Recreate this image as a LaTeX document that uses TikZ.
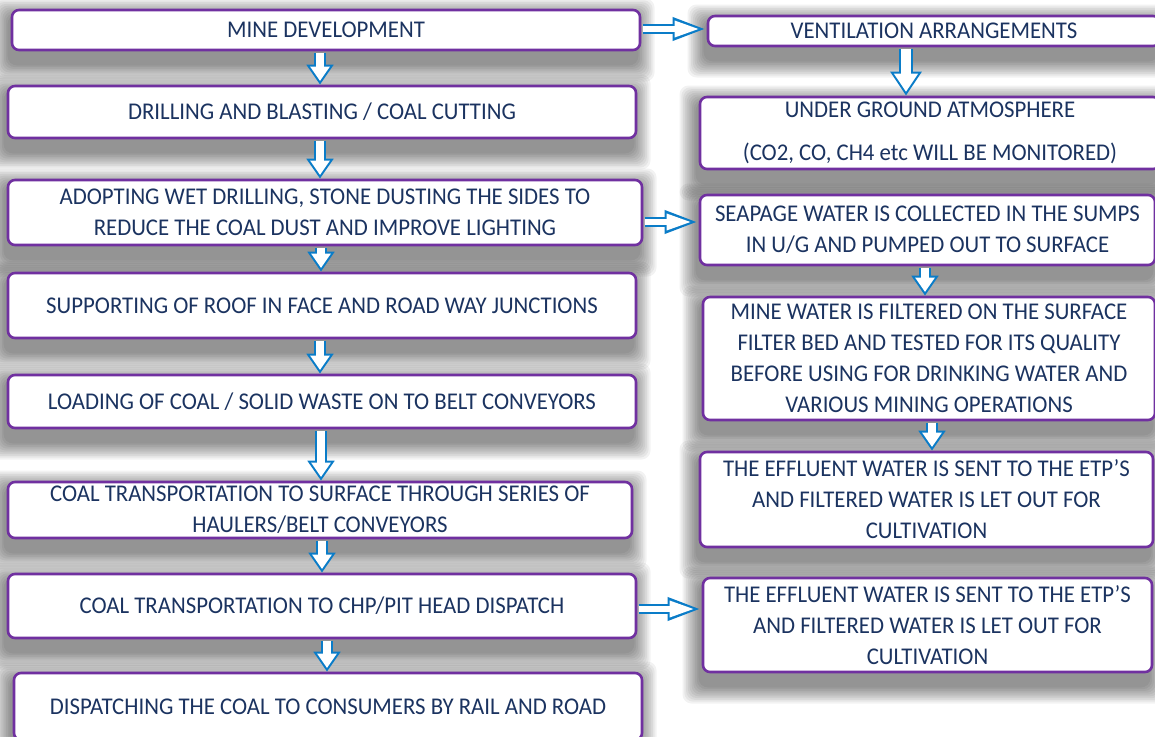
\documentclass[tikz,border=0pt]{standalone}
\usepackage{fontspec}
\setmainfont{Carlito}[FakeStretch=0.95]
\usetikzlibrary{arrows.meta,backgrounds}
\definecolor{boxpurple}{HTML}{7030A0}
\definecolor{textnavy}{HTML}{1B3360}
\definecolor{arrowblue}{HTML}{0A7CC8}
\tikzset{
  stepbox/.style={draw=boxpurple, line width=2.6pt, rounded corners=7pt, fill=white,
    inner sep=0pt, align=center, text=textnavy, font=\fontsize{24}{31}\selectfont},
  shadowlayer/.style={black, opacity=0.05, rounded corners=9pt},
  arrowouter/.style n args={3}{line width=#1, draw=arrowblue, shorten <=1.3pt,
    -{Triangle[width=#2,length=#3]}},
  arrowinner/.style n args={4}{line width=#1, draw=white, shorten <=1.3pt, shorten >=#4,
    -{Triangle[width=#2,length=#3]}},
}
\newcommand\vlarrow[2]{%
  \draw[arrowouter={12pt}{26pt}{20pt}] #1 -- #2;
  \draw[arrowinner={7.6pt}{18.6pt}{14.3pt}{3.7pt}] #1 -- #2;}
\newcommand\vbigarrow[2]{%
  \draw[arrowouter={14pt}{30pt}{24pt}] #1 -- #2;
  \draw[arrowinner={9.6pt}{22.8pt}{18.2pt}{3.8pt}] #1 -- #2;}
\newcommand\harrow[2]{%
  \draw[arrowouter={10pt}{21pt}{34pt}] #1 -- #2;
  \draw[arrowinner={5.8pt}{15pt}{25.4pt}{6.7pt}] #1 -- #2;}
\newcommand\softshadow[1]{%
  \foreach \k in {0,...,9}{%
    \fill[shadowlayer] ([xshift={(-1.8*\k-3)*1pt}, yshift={(-6+1.8*\k)*1pt}]#1.north west)
      rectangle ([xshift={(1.8*\k-3)*1pt}, yshift={(-14-1.8*\k)*1pt}]#1.south east);
  }}
\begin{document}
\begin{tikzpicture}[x=1pt,y=-1pt]
\useasboundingbox (0,0) rectangle (1155,736);
\clip (0,0) rectangle (1155,736);
% left column
\node[stepbox, minimum width=628pt, minimum height=40pt] (n1) at (326,30) {MINE DEVELOPMENT};
\node[stepbox, minimum width=628pt, minimum height=52pt] (n2) at (322,112) {DRILLING AND BLASTING / COAL CUTTING};
\node[stepbox, minimum width=634pt, minimum height=65pt] (n3) at (325,212.5) {ADOPTING WET DRILLING, STONE DUSTING THE SIDES TO\\REDUCE THE COAL DUST AND IMPROVE LIGHTING};
\node[stepbox, minimum width=628pt, minimum height=65pt] (n4) at (322,305.5) {SUPPORTING OF ROOF IN FACE AND ROAD WAY JUNCTIONS};
\node[stepbox, minimum width=628pt, minimum height=53pt] (n5) at (322,401.5) {LOADING OF COAL / SOLID WASTE ON TO BELT CONVEYORS};
\node[stepbox, minimum width=624pt, minimum height=56pt] (n6) at (320,510) {COAL TRANSPORTATION TO SURFACE THROUGH SERIES OF\\HAULERS/BELT CONVEYORS};
\node[stepbox, minimum width=628pt, minimum height=64pt] (n7) at (322,606) {COAL TRANSPORTATION TO CHP/PIT HEAD DISPATCH};
\node[stepbox, minimum width=628pt, minimum height=67pt] (n8) at (328,706.5) {DISPATCHING THE COAL TO CONSUMERS BY RAIL AND ROAD};
% right column
\node[stepbox, minimum width=452pt, minimum height=30pt] (a) at (934,31) {VENTILATION ARRANGEMENTS};
\node[stepbox, minimum width=460pt, minimum height=72pt] (b) at (930,133) {UNDER GROUND ATMOSPHERE\\[12pt](CO2, CO, CH4 etc WILL BE MONITORED)};
\node[stepbox, minimum width=455pt, minimum height=70pt] (c) at (927.5,230) {SEAPAGE WATER IS COLLECTED IN THE SUMPS\\IN U/G AND PUMPED OUT TO SURFACE};
\node[stepbox, minimum width=452pt, minimum height=123pt] (d) at (929,358.5) {MINE WATER IS FILTERED ON THE SURFACE\\FILTER BED AND TESTED FOR ITS QUALITY\\BEFORE USING FOR DRINKING WATER AND\\VARIOUS MINING OPERATIONS};
\node[stepbox, minimum width=453pt, minimum height=95pt] (e) at (926.5,499.5) {THE EFFLUENT WATER IS SENT TO THE ETP’S\\AND FILTERED WATER IS LET OUT FOR\\CULTIVATION};
\node[stepbox, minimum width=449pt, minimum height=94pt] (f) at (927.5,625) {THE EFFLUENT WATER IS SENT TO THE ETP’S\\AND FILTERED WATER IS LET OUT FOR\\CULTIVATION};
% soft shadows behind the boxes
\begin{pgfonlayer}{background}
  \fill[white] (0,0) rectangle (1155,736);
  \foreach \n in {n1,n2,n3,n4,n5,n6,n7,n8,a,b,c,d,e,f}{\softshadow{\n}}
\end{pgfonlayer}
% vertical arrows, left
\vlarrow{([xshift=-6pt]n1.south)}{([xshift=-2pt]n2.north)}
\vlarrow{([xshift=-2pt]n2.south)}{([xshift=-5pt]n3.north)}
\vlarrow{([xshift=-4pt]n3.south)}{([xshift=-1pt]n4.north)}
\vlarrow{([xshift=-2pt]n4.south)}{([xshift=-2pt]n5.north)}
\vlarrow{([xshift=-1pt]n5.south)}{([xshift=1pt]n6.north)}
\vlarrow{([xshift=2pt]n6.south)}{([xshift=0pt]n7.north)}
\vlarrow{([xshift=5pt]n7.south)}{([xshift=-1pt]n8.north)}
% vertical arrows, right
\vbigarrow{([xshift=-28pt]a.south)}{([xshift=-24pt]b.north)}
\vlarrow{([xshift=-2.5pt]c.south)}{([xshift=-4pt]d.north)}
\vlarrow{([xshift=3pt]d.south)}{([xshift=5.5pt]e.north)}
% horizontal arrows
\harrow{([yshift=1pt]n1.east)}{([yshift=2pt]a.west)}
\harrow{([yshift=-9.5pt]n3.east)}{([yshift=8pt]c.west)}
\harrow{([yshift=-3pt]n7.east)}{([yshift=16pt]f.west)}
\end{tikzpicture}
\end{document}
